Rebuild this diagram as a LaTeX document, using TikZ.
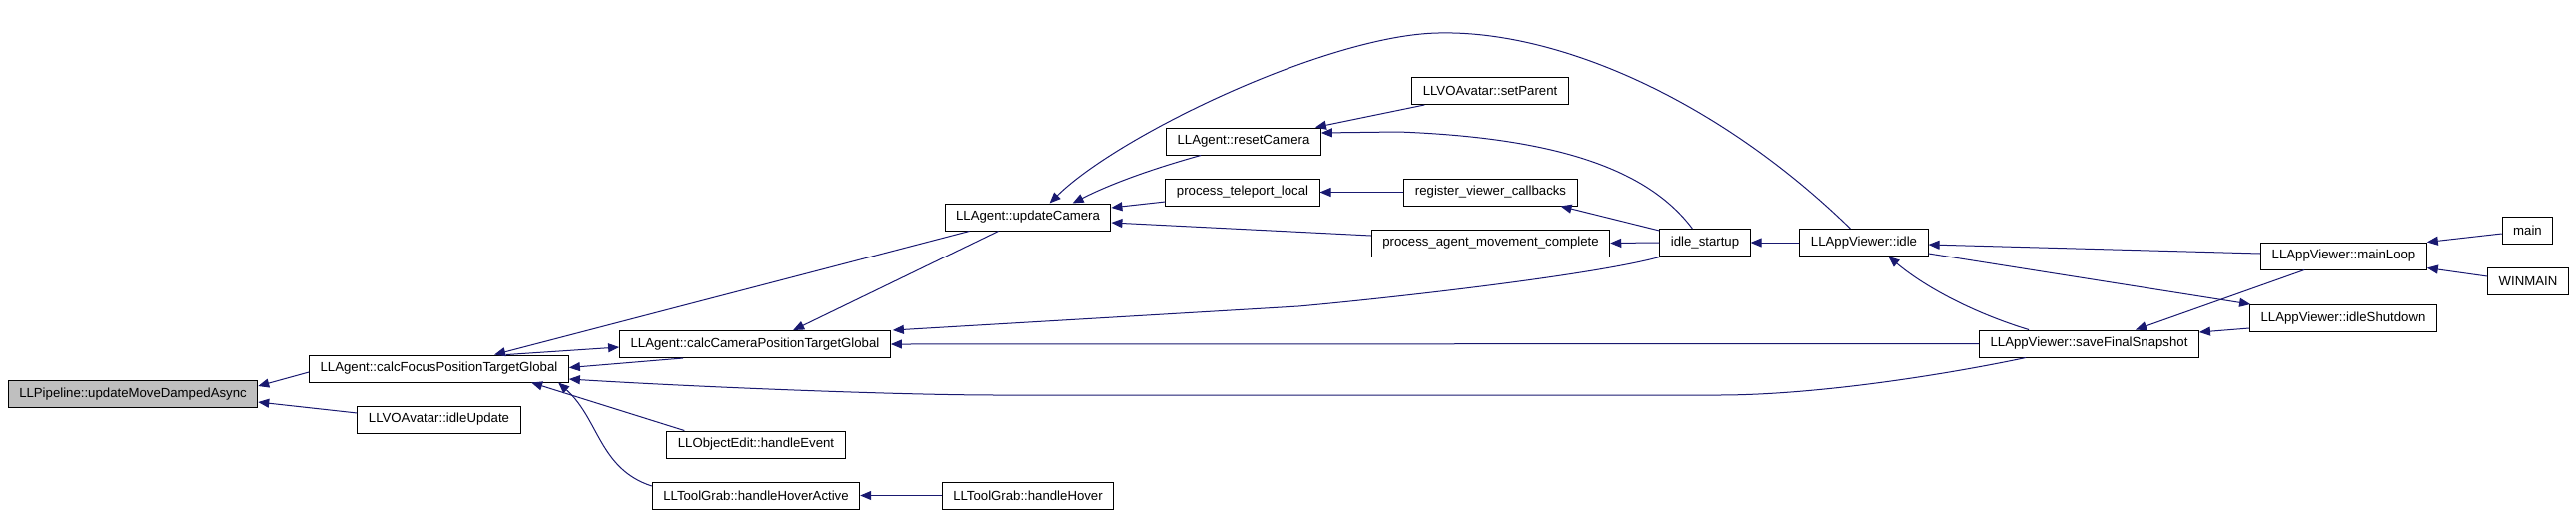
\documentclass[tikz,border=0pt]{standalone}
\usepackage{fontspec}
\setmainfont{Liberation Sans}
\usetikzlibrary{arrows.meta}
\definecolor{callblue}{RGB}{25,25,112}
\definecolor{rootgray}{RGB}{191,191,191}

\begin{document}
\begin{tikzpicture}[x=1pt, y=-1pt, >={Triangle[length=11pt, width=9pt]},
    fn/.style={draw=black, line width=1pt, fill=white, minimum height=27pt,
      inner xsep=11pt, inner ysep=0pt, font=\fontsize{13.2}{16}\selectfont},
    call/.style={->, draw=callblue, line width=1pt}]
      \useasboundingbox (0,0) rectangle (2579,515);

      % Function in question
      \node[fn, fill=rootgray] (pipe) at (133,395) {LLPipeline::updateMoveDampedAsync};

      % First callers
      \node[fn] (focus) at (439.5,369.5) {LLAgent::calcFocusPositionTargetGlobal};
      \node[fn] (idleupd) at (439.5,420.5) {LLVOAvatar::idleUpdate};

      % Second level
      \node[fn] (camera) at (756,345) {LLAgent::calcCameraPositionTargetGlobal};
      \node[fn] (objedit) at (757,445.5) {LLObjectEdit::handleEvent};
      \node[fn] (hoveract) at (757,496.5) {LLToolGrab::handleHoverActive};

      % Third level
      \node[fn] (update) at (1029,217.5) {LLAgent::updateCamera};
      \node[fn] (hover) at (1029,496.5) {LLToolGrab::handleHover};
      \node[fn] (reset) at (1245,141.5) {LLAgent::resetCamera};
      \node[fn] (teleport) at (1244,192.5) {process\_teleport\_local};

      % Fourth level
      \node[fn] (setparent) at (1492,91) {LLVOAvatar::setParent};
      \node[fn] (register) at (1492.5,192.5) {register\_viewer\_callbacks};
      \node[fn] (agentmove) at (1492.5,243.5) {process\_agent\_movement\_complete};
      \node[fn] (startup) at (1707,243) {idle\_startup};
      \node[fn] (idle) at (1866,243) {LLAppViewer::idle};

      % Application loop
      \node[fn] (snapshot) at (2091.5,344.5) {LLAppViewer::saveFinalSnapshot};
      \node[fn] (mainloop) at (2346.5,256.5) {LLAppViewer::mainLoop};
      \node[fn] (shutdown) at (2346,319) {LLAppViewer::idleShutdown};
      \node[fn] (main) at (2530.5,231) {main};
      \node[fn] (winmain) at (2531,281.5) {WINMAIN};

      % Calls into the root
      \draw[call] ([yshift=-3.5]focus.west) -- ([yshift=8]pipe.east);
      \draw[call] ([yshift=6.5]idleupd.west) -- ([yshift=-8]pipe.east);

      % Calls into calcFocusPositionTargetGlobal
      \draw[call] ([xshift=64]camera.south west) -- ([yshift=1]focus.east);
      \draw[call] ([xshift=25]update.south west) -- ([xshift=186]focus.north west);
      \draw[call] ([xshift=18]objedit.north west) -- ([xshift=223]focus.south west);
      \draw[call] ([yshift=9.5]hoveract.west) .. controls (600,470) and (600,420) .. ([xshift=250]focus.south west);
      \draw[call] ([xshift=47]snapshot.south west) .. controls (1950,375) and (1820,396) .. (1720,396)
        -- (1000,396) .. controls (900,396) and (700,388) .. ([yshift=-10.5]focus.east);

      % Calls into calcCameraPositionTargetGlobal
      \draw[call] ([xshift=198]focus.north west) -- ([yshift=-3]camera.west);
      \draw[call] ([xshift=54]update.south west) -- ([xshift=174]camera.north west);
      \draw[call] ([xshift=2]startup.south west) .. controls (1600,275) and (1400,298) .. (1300,307)
        -- ([xshift=2]camera.north east);
      \draw[call] (snapshot.west) -- (camera.east);

      % Calls into updateCamera
      \draw[call] ([xshift=51]idle.north west) .. controls (1720,100) and (1560,30) .. (1440,33)
        .. controls (1330,35) and (1120,135) .. ([xshift=105]update.north west);
      \draw[call] ([xshift=35]reset.south west) .. controls (1150,170) and (1110,185) .. ([xshift=128]update.north west);
      \draw[call] ([yshift=-9.5]teleport.west) -- ([yshift=9.5]update.east);
      \draw[call] ([yshift=7.5]agentmove.west) -- ([yshift=-5.5]update.east);

      % Calls into resetCamera and the rest
      \draw[call] ([xshift=13]setparent.south west) -- ([xshift=-6]reset.north east);
      \draw[call] ([xshift=33]startup.north west) .. controls (1650,170) and (1560,138) .. (1400,132)
        -- ([yshift=8.5]reset.east);
      \draw[call] (register.west) -- (teleport.east);
      \draw[call] ([yshift=-2]startup.north west) -- ([xshift=-17]register.south east);
      \draw[call] (startup.west) -- (agentmove.east);
      \draw[call] (idle.west) -- (startup.east);
      \draw[call] (hover.west) -- (hoveract.east);

      % Application viewer calls
      \draw[call] ([yshift=2.5]mainloop.west) -- ([yshift=-2]idle.east);
      \draw[call] ([xshift=50]snapshot.north west) .. controls (1980,315) and (1930,290) .. ([xshift=89]idle.south west);
      \draw[call] ([yshift=-11]idle.east) -- ([xshift=1]shutdown.north west);
      \draw[call] ([yshift=-10]shutdown.west) -- ([yshift=11.5]snapshot.east);
      \draw[call] ([xshift=44]mainloop.south west) -- ([xshift=157]snapshot.north west);
      \draw[call] ([yshift=-3]main.west) -- (mainloop.north east);
      \draw[call] ([yshift=4.5]winmain.west) -- ([yshift=2]mainloop.south east);

   \end{tikzpicture}
\end{document}
